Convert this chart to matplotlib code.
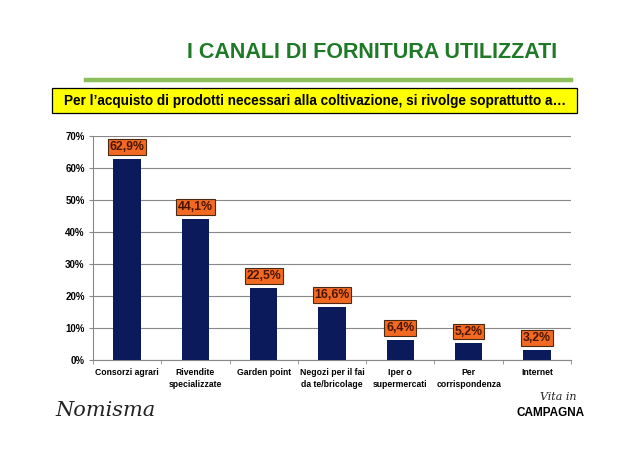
import matplotlib.pyplot as plt
from matplotlib.patches import Rectangle
from matplotlib.lines import Line2D

categories = ['Consorzi agrari', 'Rivendite\nspecializzate', 'Garden point',
              'Negozi per il fai\nda te/bricolage', 'Iper o\nsupermercati',
              'Per\ncorrispondenza', 'Internet']
values = [62.9, 44.1, 22.5, 16.6, 6.4, 5.2, 3.2]
value_labels = ['62,9%', '44,1%', '22,5%', '16,6%', '6,4%', '5,2%', '3,2%']
yticks = [0, 10, 20, 30, 40, 50, 60, 70]

plt.rcParams['font.family'] = ['Liberation Sans', 'DejaVu Sans']

W, H = 640, 449
fig = plt.figure(figsize=(6.4, 4.49), dpi=100)

# axes placed in pixel coordinates of the reference
left, right, top, bottom = 93, 571, 136, 360
ax = fig.add_axes([left / W, 1 - bottom / H, (right - left) / W, (bottom - top) / H])

x = range(len(categories))
ax.bar(x, values, width=0.4, color='#0b1a5a', zorder=3)
ax.set_xlim(-0.5, len(categories) - 0.5)
ax.set_ylim(0, 70)
ax.set_yticks(yticks)
ax.set_yticklabels([f'{t}%' for t in yticks], fontsize=7, fontweight='bold')
ax.set_xticks(list(x))
ax.set_xticklabels(categories, fontsize=6.2, fontweight='bold', linespacing=1.45)
ax.tick_params(axis='x', length=0, pad=6)
ax.tick_params(axis='y', length=3, color='#888888', pad=3)
ax.set_xticks([i + 0.5 for i in range(-1, len(categories))], minor=True)
ax.tick_params(axis='x', which='minor', length=3, color='#888888')
ax.grid(axis='y', color='#888888', linewidth=0.8, zorder=0)
for s in ['top', 'right']:
    ax.spines[s].set_visible(False)
ax.spines['left'].set_color('#888888')
ax.spines['bottom'].set_color('#888888')

for i, (v, lab) in enumerate(zip(values, value_labels)):
    ax.annotate(lab, (i, v), xytext=(0, 8.5), textcoords='offset points',
                ha='center', va='center', fontsize=8.8, fontweight='bold',
                color='#4a1400', zorder=5,
                bbox=dict(boxstyle='square,pad=0.15', fc='#f26a21', ec='#4a2a10', lw=0.8))

# title
fig.text(372 / W, 1 - 52 / H, 'I CANALI DI FORNITURA UTILIZZATI', ha='center', va='center',
         fontsize=15.5, fontweight='bold', color='#1e7a26')
# green line
fig.add_artist(Line2D([86 / W, 571 / W], [1 - 80 / H, 1 - 80 / H], color='#8dc05a', lw=3.2))
# yellow box
fig.add_artist(Rectangle((52 / W, 1 - 113 / H), (577 - 52) / W, 25 / H,
                         facecolor='#ffff00', edgecolor='black', lw=0.9))
fig.text(315 / W, 1 - 100.5 / H,
         'Per l\u2019acquisto di prodotti necessari alla coltivazione, si rivolge soprattutto a\u2026',
         ha='center', va='center', fontsize=9.8, fontweight='bold', color='black')

# logos as text
fig.text(55 / W, 1 - 410 / H, 'Nomisma', ha='left', va='center', fontsize=15,
         family='DejaVu Serif', style='italic', color='#222222')
fig.text(558 / W, 1 - 397 / H, 'Vita in', ha='center', va='center', fontsize=8,
         family='DejaVu Serif', style='italic', color='#222222')
fig.text(551 / W, 1 - 413 / H, 'CAMPAGNA', ha='center', va='center', fontsize=8.5,
         fontweight='bold', color='black')

fig.savefig('out.png', dpi=100)
